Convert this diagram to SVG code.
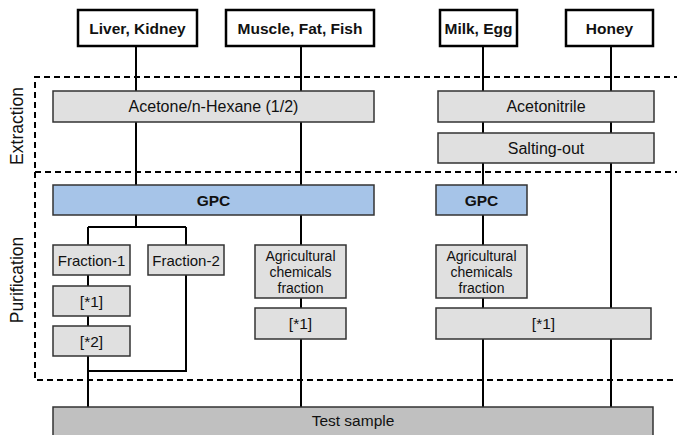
<svg xmlns="http://www.w3.org/2000/svg" width="677" height="435" viewBox="0 0 677 435">
<style>
text{font-family:"Liberation Sans",Arial,sans-serif;fill:#111;text-anchor:middle;dominant-baseline:central}
.src rect{fill:#fff;stroke:#000;stroke-width:2.5}
.src text{font-weight:bold;font-size:15.5px}
.step rect{fill:#e0e0e0;stroke:#333;stroke-width:1.5}
.step text{font-size:15.5px}
.gpc rect{fill:#a6c4e8;stroke:#333;stroke-width:1.5}
.gpc text{font-weight:bold;font-size:15.5px}
.frac text{font-size:15px}
.agri text{font-size:14px}
.test rect{fill:#c0c0c0;stroke:#333;stroke-width:1.5}
.test text{font-size:15.5px}
.dash{fill:none;stroke:#000;stroke-width:2;stroke-dasharray:6 4}
.conn{fill:none;stroke:#000;stroke-width:2}
.phase{font-size:17.5px}
</style>

<g id="phases">
<path class="dash" d="M680 77H35V172H680"/>
<path class="dash" d="M35 172V380H680"/>
<text class="phase" transform="translate(17,126) rotate(-90)">Extraction</text>
<text class="phase" transform="translate(17,280) rotate(-90)">Purification</text>
</g>

<g id="connectors" class="conn">
<path d="M136 46V91M136 122V185M136 215V227M88 227H186M88 227V245M186 227V245"/>
<path d="M88 275V286M88 316V326M88 356V407M186 275V371H88"/>
<path d="M301 46V91M301 122V185M301 215V245M301 298V308M301 339V407"/>
<path d="M483 46V91M483 122V133M483 163V185M483 215V245M483 298V308M483 339V407"/>
<path d="M611 46V91M611 122V133M611 163V308M611 339V407"/>
</g>

<g id="liver-kidney" class="src"><rect x="78" y="10" width="119" height="36"/><text x="137.5" y="28">Liver, Kidney</text></g>
<g id="muscle-fat-fish" class="src"><rect x="226" y="10" width="148" height="36"/><text x="300" y="28">Muscle, Fat, Fish</text></g>
<g id="milk-egg" class="src"><rect x="440" y="10" width="77" height="36"/><text x="478.5" y="28">Milk, Egg</text></g>
<g id="honey" class="src"><rect x="566" y="10" width="87" height="36"/><text x="609.5" y="28">Honey</text></g>

<g id="acetone-hexane" class="step"><rect x="53" y="91" width="321" height="31"/><text x="213.5" y="106.5" style="font-size:16px">Acetone/n-Hexane (1/2)</text></g>
<g id="acetonitrile" class="step"><rect x="438" y="91" width="216" height="31"/><text x="546" y="106.5" style="font-size:16px">Acetonitrile</text></g>
<g id="salting-out" class="step"><rect x="438" y="133" width="216" height="30"/><text x="546" y="148" style="font-size:16px">Salting-out</text></g>

<g id="gpc-1" class="gpc"><rect x="53" y="185" width="321" height="30"/><text x="213.5" y="200">GPC</text></g>
<g id="gpc-2" class="gpc"><rect x="436" y="185" width="91" height="30"/><text x="481.5" y="200">GPC</text></g>

<g id="fraction-1" class="step frac"><rect x="53" y="245" width="77" height="30"/><text x="91.5" y="260">Fraction-1</text></g>
<g id="fraction-2" class="step frac"><rect x="148" y="245" width="76" height="30"/><text x="186" y="260">Fraction-2</text></g>
<g id="f1-star1" class="step"><rect x="53" y="286" width="77" height="30"/><text x="91.5" y="301">[*1]</text></g>
<g id="f1-star2" class="step"><rect x="53" y="326" width="77" height="30"/><text x="91.5" y="341">[*2]</text></g>

<g id="agri-1" class="step agri"><rect x="255" y="245" width="91" height="53"/><text x="300.5" y="255.5">Agricultural</text><text x="300.5" y="271.5">chemicals</text><text x="300.5" y="287.5">fraction</text></g>
<g id="agri-2" class="step agri"><rect x="436" y="245" width="91" height="53"/><text x="481.5" y="255.5">Agricultural</text><text x="481.5" y="271.5">chemicals</text><text x="481.5" y="287.5">fraction</text></g>
<g id="star1-mid" class="step"><rect x="255" y="308" width="91" height="31"/><text x="300.5" y="323.5">[*1]</text></g>
<g id="star1-right" class="step"><rect x="436" y="308" width="215" height="31"/><text x="543.5" y="323.5">[*1]</text></g>

<g id="test-sample" class="test"><rect x="53" y="407" width="600" height="40"/><text x="353" y="420">Test sample</text></g>
</svg>
